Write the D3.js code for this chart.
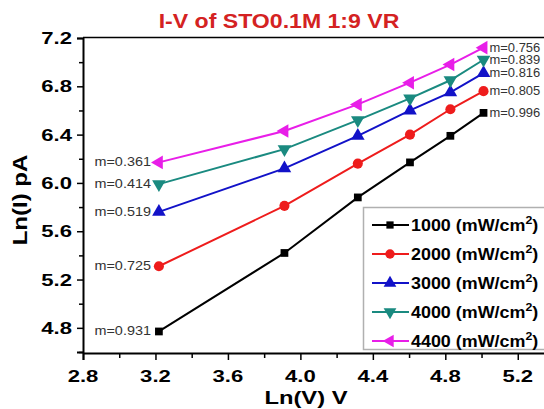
<!DOCTYPE html>
<html>
<head>
<meta charset="utf-8">
<script src="https://d3js.org/d3.v7.min.js"></script>
<style>
  body { margin: 0; background: #fff; }
  svg { display: block; font-family: Arial, "Liberation Sans", sans-serif; }
</style>
</head>
<body>
<svg id="chart" width="544" height="409"></svg>
<script>
// x = Ln(V) for 25, 50, 75, 100, 125, 150 V
const lnV = [3.219, 3.912, 4.317, 4.605, 4.828, 5.011];
const series = ["1000", "2000", "3000", "4000", "4400"];
const lnI1000 = [4.77, 5.42, 5.88, 6.17, 6.39, 6.58];
const lnI2000 = [5.31, 5.81, 6.16, 6.40, 6.61, 6.76];
const lnI3000 = [5.76, 6.12, 6.39, 6.60, 6.75, 6.91];
const lnI4000 = [5.99, 6.28, 6.52, 6.70, 6.85, 7.02];
const lnI4400 = [6.17, 6.43, 6.65, 6.83, 6.98, 7.12];
const slopeLeft = ["m=0.931", "m=0.725", "m=0.519", "m=0.414", "m=0.361"];
const slopeRight = ["m=0.996", "m=0.805", "m=0.816", "m=0.839", "m=0.756"];
const xTicks = [2.8, 3.2, 3.6, 4.0, 4.4, 4.8, 5.2];
const yTicks = [4.8, 5.2, 5.6, 6.0, 6.4, 6.8, 7.2];

const values = [lnI1000, lnI2000, lnI3000, lnI4000, lnI4400];
const colors = ["#000000", "#ee1c1c", "#1212c8", "#1a8a80", "#e81ee8"];
const shapes = ["square", "circle", "up", "down", "left"];

const svg = d3.select("#chart");
const x = d3.scaleLinear().domain([2.8, 5.4]).range([83, 554]);
const y = d3.scaleLinear().domain([4.6, 7.2]).range([352, 38]);
const SX = 1.3; // glyphs in the picture are a bit wide

// text drawn with a horizontal stretch
function label(px, py, txt, size, opts) {
  opts = opts || {};
  let g = svg.append("g").attr("transform", `translate(${px},${py})` + (opts.rot ? ` rotate(${opts.rot})` : "") + ` scale(${opts.sx || SX},1)`);
  let t = g.append("text")
    .attr("font-size", size)
    .attr("font-weight", opts.bold === false ? "normal" : "bold")
    .attr("fill", opts.color || "#000")
    .attr("text-anchor", opts.anchor || "middle")
    .text(txt);
  return t;
}

// frame: top line + axes
svg.append("line").attr("x1", 83).attr("x2", 554).attr("y1", 37.5).attr("y2", 37.5)
  .attr("stroke", "#000").attr("stroke-width", 1.5);

const xAxis = d3.axisBottom(x).tickValues(d3.range(2.8, 5.41, 0.2)).tickSize(7).tickFormat("");
const gx = svg.append("g").attr("transform", "translate(0,353)").call(xAxis);
const yAxis = d3.axisLeft(y).tickValues(d3.range(4.6, 7.21, 0.2)).tickSize(6).tickFormat("");
const gy = svg.append("g").attr("transform", "translate(83,0)").call(yAxis);
[gx, gy].forEach(g => {
  g.select(".domain").attr("stroke-width", 2);
  g.selectAll(".tick line").attr("stroke-width", 1.5);
});
// minor ticks shorter
gx.selectAll(".tick line").attr("y2", (d, i) => i % 2 === 0 ? 7 : 5);
gy.selectAll(".tick line").attr("x2", d => Math.abs((d * 10) % 4) < 0.01 || Math.abs((d * 10) % 4 - 4) < 0.01 ? -6 : -4);

xTicks.forEach(v => label(x(v), 382, v.toFixed(1), 17));
yTicks.forEach(v => label(72, y(v) + 6, v.toFixed(1), 17, { anchor: "end" }));

label(306, 404, "Ln(V) V", 19, { sx: 1.25 });
label(27, 200, "Ln(I) pA", 20, { rot: -90, sx: 1.2 });
label(279, 28, "I-V of STO0.1M 1:9 VR", 21, { color: "#d42222", sx: 1.1 });

// marker symbols
function marker(g, shape, color, size) {
  let s;
  if (shape === "square") s = d3.symbol(d3.symbolSquare, size * 0.75);
  else if (shape === "circle") s = d3.symbol(d3.symbolCircle, size);
  else s = d3.symbol(d3.symbolTriangle, size);
  let p = g.append("path").attr("d", s()).attr("fill", color);
  if (shape === "down") p.attr("transform", "rotate(180)");
  if (shape === "left") p.attr("transform", "rotate(-90)");
  return p;
}

const line = d3.line().x(d => x(d[0])).y(d => y(d[1]));
values.forEach((vals, k) => {
  const pts = lnV.map((v, i) => [v, vals[i]]);
  svg.append("path").attr("d", line(pts)).attr("fill", "none")
    .attr("stroke", colors[k]).attr("stroke-width", 2);
  pts.forEach(p => {
    const g = svg.append("g").attr("transform", `translate(${x(p[0])},${y(p[1])})`);
    marker(g, shapes[k], colors[k], 80);
  });
  label(x(lnV[0]) - 8, y(vals[0]) + 4, slopeLeft[k], 12, { anchor: "end", bold: false, color: "#333", sx: 1.2 });
  label(x(lnV[5]) + 6, y(vals[5]) + 4, slopeRight[k], 12, { anchor: "start", bold: false, color: "#333", sx: 1.08 });
});

// legend
svg.append("rect").attr("x", 363.5).attr("y", 207.5).attr("width", 190).attr("height", 142)
  .attr("fill", "#fff").attr("stroke", "#b0b0b0").attr("stroke-width", 1.5);
series.forEach((s, k) => {
  const ly = 225 + k * 29;
  svg.append("line").attr("x1", 372).attr("x2", 409).attr("y1", ly).attr("y2", ly)
    .attr("stroke", colors[k]).attr("stroke-width", 2);
  const g = svg.append("g").attr("transform", `translate(390,${ly})`);
  marker(g, shapes[k], colors[k], 70);
  const t = label(411, ly + 6, s + " (mW/cm", 16, { anchor: "start", sx: 1.12 });
  t.append("tspan").attr("dy", -7).attr("font-size", 11).text("2");
  t.append("tspan").attr("dy", 7).text(")");
});
</script>
</body>
</html>
